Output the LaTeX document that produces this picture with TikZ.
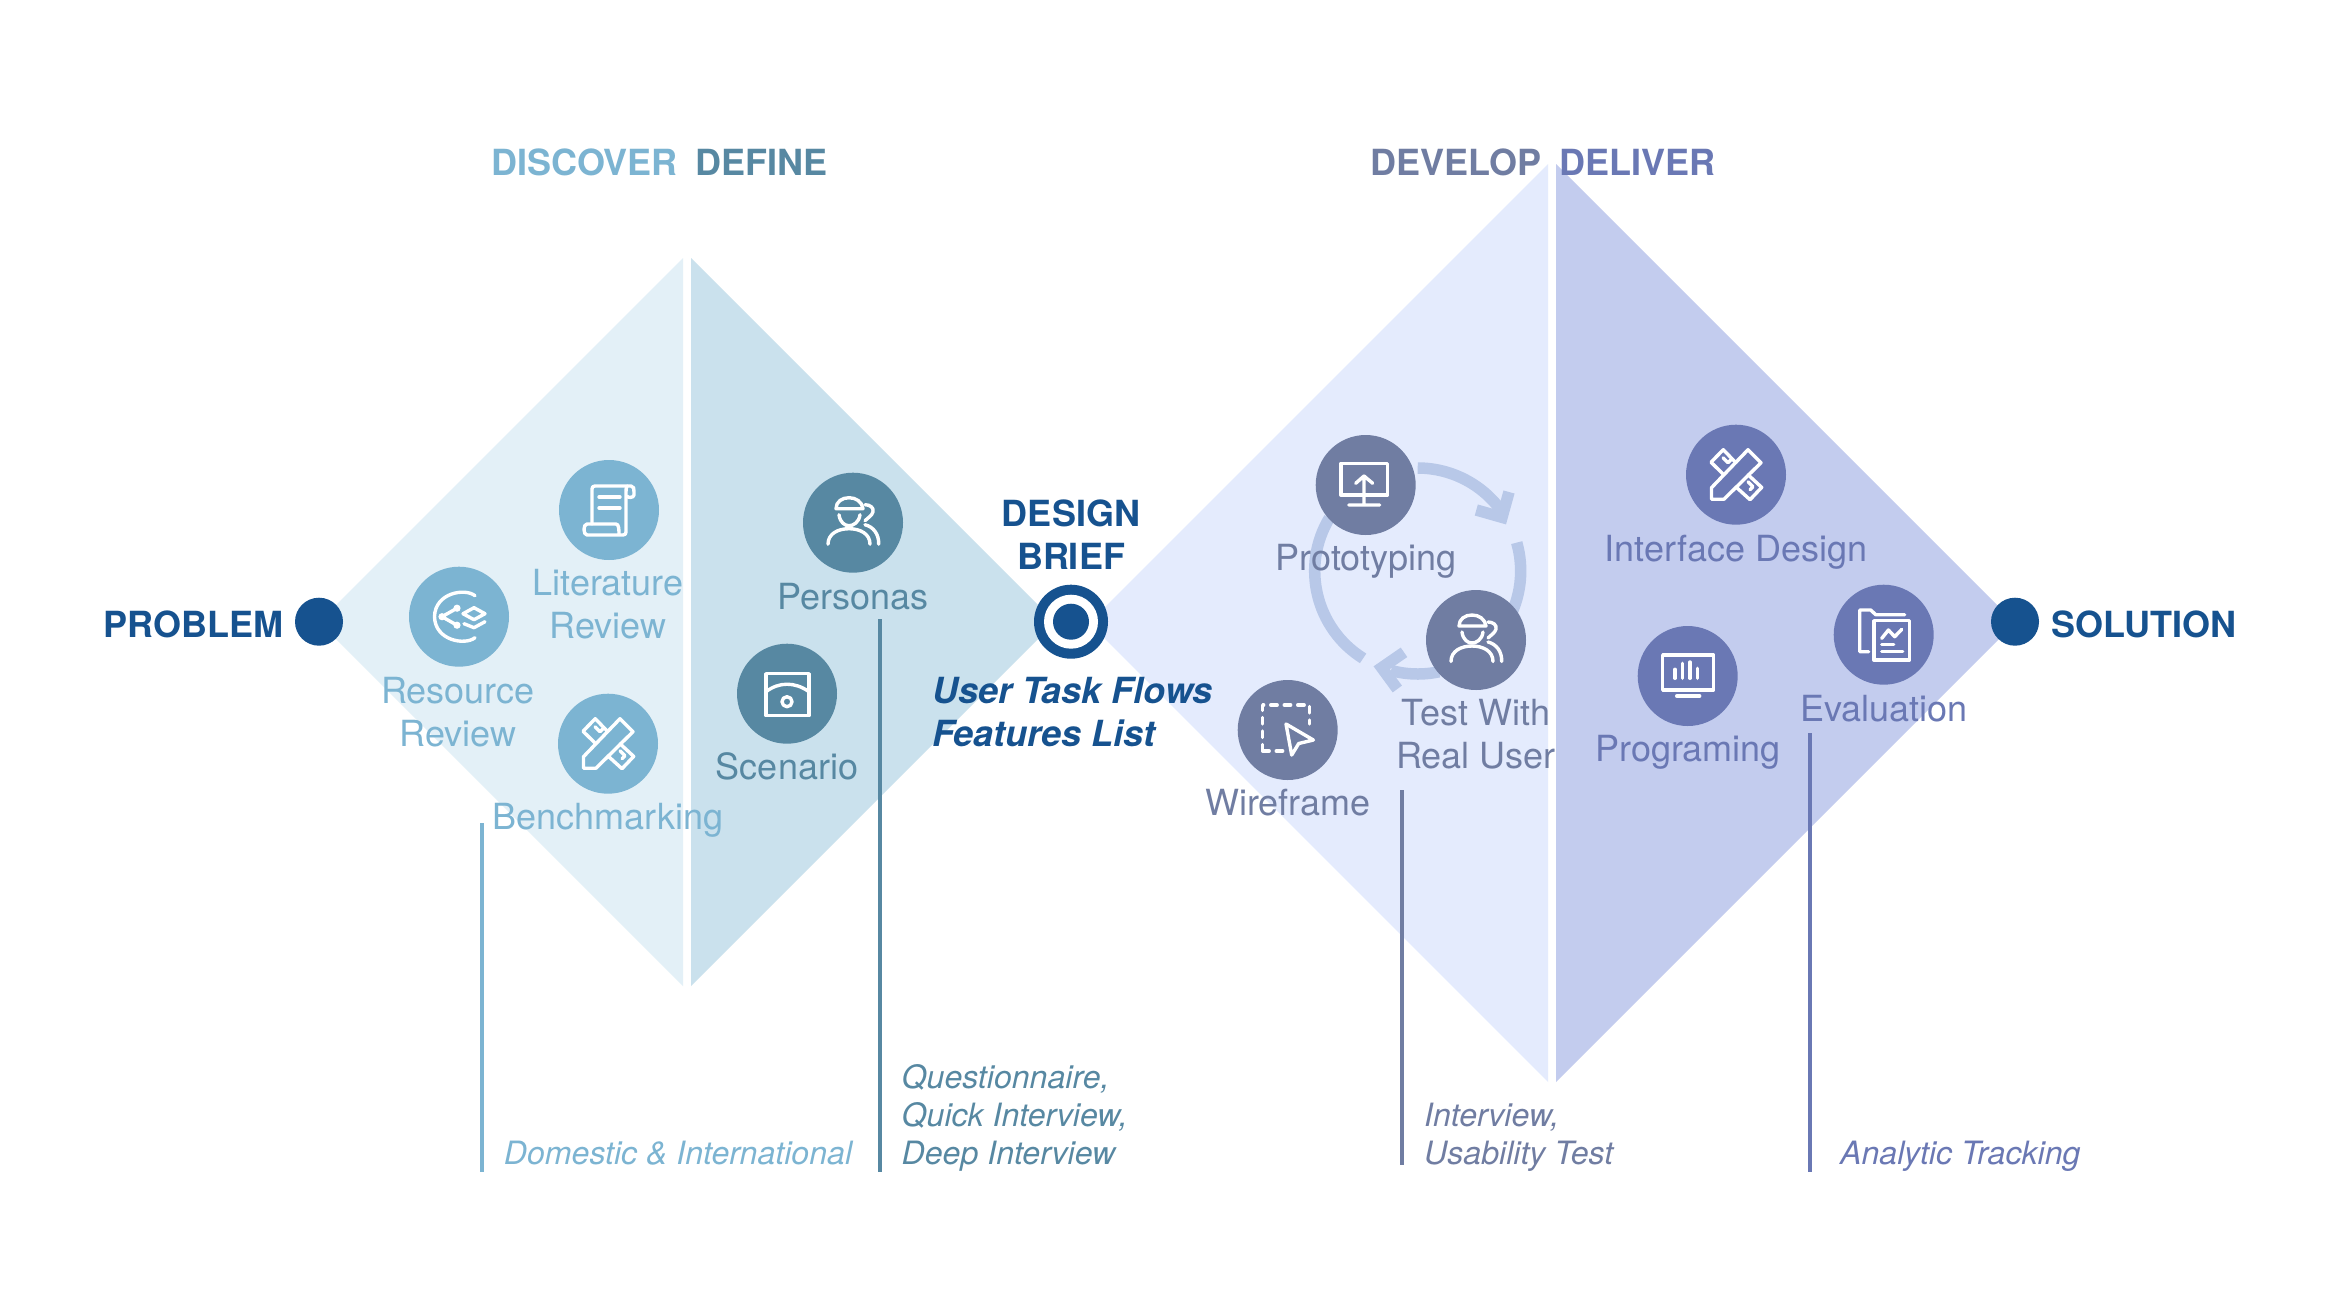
\documentclass[tikz,border=0pt]{standalone}
\usepackage{fontspec}
\setmainfont{TeX Gyre Heros}
\definecolor{cA}{HTML}{7CB4D2}
\definecolor{cB}{HTML}{5788A2}
\definecolor{cC}{HTML}{707DA2}
\definecolor{cD}{HTML}{6A78B4}
\definecolor{fA}{HTML}{E3F0F7}
\definecolor{fB}{HTML}{CAE1ED}
\definecolor{fC}{HTML}{E4EBFD}
\definecolor{fD}{HTML}{C3CCEE}
\definecolor{navy}{HTML}{16528F}
\definecolor{cyc}{HTML}{B8C8E8}
\tikzset{
  disc/.style={circle,fill=#1,draw=none,minimum size=100pt,inner sep=0pt},
  lab/.style={text=#1,anchor=base,inner sep=0pt,align=center,font=\fontsize{36}{43}\selectfont},
  head/.style={text=#1,anchor=base west,inner sep=0pt,font=\fontsize{36}{43}\selectfont\bfseries},
  brief/.style={text=navy,inner sep=0pt,align=left,anchor=base west,font=\fontsize{36}{43}\selectfont\bfseries\itshape},
  note/.style={text=#1,anchor=base west,inner sep=0pt,align=left,font=\fontsize{32.1}{38}\selectfont\itshape},
  rule/.style={draw=#1,line width=4pt},
  ico/.style={draw=white,line width=3.4pt,line cap=round,line join=round},
  cycarc/.style={draw=cyc,line width=11.5pt},
  cychead/.style={draw=cyc,line width=11.5pt,line join=miter,miter limit=10}
}
\newcommand{\iconScroll}[1]{\begin{scope}[shift={(#1.center)}]
 \draw[ico] (-17,14) -- (-17,-21) .. controls (-17,-23) and (-16,-24) .. (-14,-24) -- (22,-24) .. controls (25,-24) and (25,-21) .. (25,-18) -- (25,-15) .. controls (25,-12) and (18,-12) .. (18,-14);
 \draw[ico] (18,-24) .. controls (17,-22) and (17,-20) .. (17,-18) -- (17,22) .. controls (17,24) and (16,25) .. (14,25) -- (-22,25) .. controls (-26,25) and (-26,14) .. (-22,14) -- (7,14) .. controls (10,14) and (10,20) .. (10,25);
 \draw[ico] (-10,-13) -- (11,-13) (-10,-2) -- (11,-2);
\end{scope}}
\newcommand{\iconShare}[1]{\begin{scope}[shift={(#1.center)}]
 \draw[ico] (16,-21) .. controls (6,-29) and (-24,-24) .. (-24.500,0) .. controls (-24,24) and (6,29) .. (16,21);
 \draw[ico] (-2,-8.500) -- (-17,0) -- (-2,8.500);
 \fill[white] (-2,-8.500) circle (3.600pt) (-17,0) circle (3.600pt) (-2,8.500) circle (3.600pt);
 \draw[ico] (15,-9) -- (26,-3) -- (15,3) -- (4,-3) -- cycle;
 \draw[ico] (5,7) -- (15,11) -- (26,5);
\end{scope}}
\newcommand{\iconTools}[1]{\begin{scope}[shift={(#1.center)}]
 \draw[ico] (-24.500,13) -- (12,-25) -- (25,-12) -- (-12,24.500) -- (-24.500,24.500) -- cycle;
 \draw[ico] (-0.200,-12) -- (-12.700,-25) -- (-25,-12.500) -- (-12.300,0);
 \draw[ico] (12,0) -- (25.700,12.700) -- (14,25) -- (0,12.300);
 \draw[ico] (-13,-17) -- (-8,-12) -- (-5,-15) (12,7) -- (17,12) -- (14,15);
\end{scope}}
\newcommand{\iconUser}[1]{\begin{scope}[shift={(#1.center)}]
 \draw[ico] (-17,-14) .. controls (-17,-21) and (-11,-25) .. (-4,-25) .. controls (3,-25) and (9,-21) .. (10,-14) -- cycle;
 \draw[ico] (-14,-8) .. controls (-13,0) and (-8,3) .. (-4,3) .. controls (0,3) and (6,0) .. (7,-8);
 \draw[ico] (-25,21.500) .. controls (-25,11) and (-15,6) .. (-4,6) .. controls (7,6) and (17,11) .. (17,21.500);
 \draw[ico] (12,-18) .. controls (17,-18) and (21,-15) .. (20,-11) .. controls (19,-7) and (15,-5) .. (12,-2);
 \draw[ico] (12,2) .. controls (20,4) and (26,11) .. (25.700,21.500);
\end{scope}}
\newcommand{\iconScene}[1]{\begin{scope}[shift={(#1.center)}]
 \draw[ico] (-21,-20) rectangle (22,22);
 \draw[ico] (-21,-2) .. controls (-8,-12) and (8,-12) .. (22,-2);
 \draw[ico] (0,8) circle (5pt);
\end{scope}}
\newcommand{\iconMonitor}[1]{\begin{scope}[shift={(#1.center)}]
 \draw[ico] (-24.700,-21.700) rectangle (21.700,10);
 \draw[ico] (-10,-1.700) -- (-1.700,-9) -- (7,-1.700) (-1.700,-9) -- (-1.700,20) (-17,20) -- (14,20);
\end{scope}}
\newcommand{\iconCursor}[1]{\begin{scope}[shift={(#1.center)}]
 \draw[ico,dash pattern=on 6.500pt off 7pt] (-25,21) -- (-25,-25) -- (22,-25) -- (22,-6);
 \draw[ico,dash pattern=on 6.500pt off 7pt] (-25,21) -- (-3,21);
 \draw[ico] (-1.700,-6) -- (25.700,10) -- (11,13.500) -- (4,25) -- cycle;
\end{scope}}
\newcommand{\iconBars}[1]{\begin{scope}[shift={(#1.center)}]
 \draw[ico] (-25,-21) rectangle (25.700,14);
 \draw[ico] (-12.700,-6.700) -- (-12.700,2.300) (-5,-12.700) -- (-5,2.300) (2.300,-14) -- (2.300,2.300) (9.700,-7.700) -- (9.700,2.300);
 \draw[ico] (-11,20) -- (12,20);
\end{scope}}
\newcommand{\iconFolder}[1]{\begin{scope}[shift={(#1.center)}]
 \draw[ico] (21,-20) -- (-8,-20) -- (-13,-24.700) -- (-24,-24.700) -- (-24,17) -- (-15,17);
 \draw[ico] (-9.700,-14) rectangle (25.700,25.300);
 \draw[ico] (-2,3.700) -- (4.700,-4.700) -- (11,2) -- (18,-5.300);
 \draw[ico] (-2,9.700) -- (10,9.700) (-2,17) -- (19,17);
\end{scope}}
\begin{document}
\begin{tikzpicture}[x=1pt,y=-1pt]
\useasboundingbox (0,0) rectangle (2340,1310);
\fill[white] (0,0) rectangle (2340,1310);
% diamonds
\fill[fA] (683,258) -- (319,622) -- (683,986) -- cycle;
\fill[fB] (691,258) -- (1055,622) -- (691,986) -- cycle;
\fill[fC] (1548,164) -- (1089,623) -- (1548,1082) -- cycle;
\fill[fD] (1556,164) -- (2015,623) -- (1556,1082) -- cycle;
% cycle arrows
\coordinate (cyc) at (1417.7,571);
\draw[cycarc] (cyc) ++(-90:103) arc[start angle=-90,end angle=-33,radius=103];
\draw[cycarc] (cyc) ++(-16:103) arc[start angle=-16,end angle=30,radius=103];
\draw[cycarc] (cyc) ++(78:103) arc[start angle=78,end angle=105,radius=103];
\draw[cycarc] (cyc) ++(122:103) arc[start angle=122,end angle=211,radius=103];
\coordinate (hA1) at (1509,492); \coordinate (hA2) at (1502,517.3); \coordinate (hA3) at (1476.3,510);
\coordinate (hB1) at (1404,652.3); \coordinate (hB2) at (1381.7,667.7); \coordinate (hB3) at (1397.3,689);
\draw[cychead] (hA1) -- (hA2) -- (hA3);
\draw[cychead] (hB1) -- (hB2) -- (hB3);
% rules
\coordinate (rA1) at (481.7,823); \coordinate (rA2) at (481.7,1171.7);
\coordinate (rB1) at (880,619); \coordinate (rB2) at (880,1171.7);
\coordinate (rC1) at (1401.6,790); \coordinate (rC2) at (1401.6,1165);
\coordinate (rD1) at (1810,733); \coordinate (rD2) at (1810,1171.7);
\draw[rule=cA] (rA1) -- (rA2);
\draw[rule=cB] (rB1) -- (rB2);
\draw[rule=cC] (rC1) -- (rC2);
\draw[rule=cD] (rD1) -- (rD2);
% discs
\node[disc=cA] (lit) at (609,510) {};
\node[disc=cA] (res) at (459,616.7) {};
\node[disc=cA] (ben) at (608,743.7) {};
\node[disc=cB] (per) at (853,522.7) {};
\node[disc=cB] (sce) at (787,693.7) {};
\node[disc=cC] (pro) at (1365.7,485) {};
\node[disc=cC] (tes) at (1476,640) {};
\node[disc=cC] (wir) at (1287.7,730) {};
\node[disc=cD] (int) at (1736,474.7) {};
\node[disc=cD] (eva) at (1883.7,634.7) {};
\node[disc=cD] (prg) at (1687.7,676) {};
\iconScroll{lit}\iconShare{res}\iconTools{ben}\iconUser{per}\iconScene{sce}
\iconMonitor{pro}\iconUser{tes}\iconCursor{wir}\iconTools{int}\iconFolder{eva}\iconBars{prg}
% markers
\node[circle,fill=navy,minimum size=48pt,inner sep=0pt] (problem) at (319,621.7) {};
\node[circle,fill=navy,minimum size=48pt,inner sep=0pt] (solution) at (2015,621.7) {};
\node[circle,fill=navy,minimum size=74pt,inner sep=0pt] (briefO) at (1071,621.7) {};
\node[circle,fill=white,minimum size=54pt,inner sep=0pt] (briefW) at (briefO.center) {};
\node[circle,fill=navy,minimum size=36pt,inner sep=0pt] (briefI) at (briefO.center) {};
% headings
\node[head=cA] (discover) at (491,175.5) {DISCOVER};
\node[head=cB] (define) at (695.5,175.5) {DEFINE};
\node[head=cC] (develop) at (1370,175.5) {DEVELOP};
\node[head=cD] (deliver) at (1559.5,175.5) {DELIVER};
\node[head=navy] (tproblem) at (103,637) {PROBLEM};
\node[head=navy] (tsolution) at (2051,637) {SOLUTION};
\node[head=navy,align=center,anchor=base] (tbrief) at (1071,569.5) {DESIGN\\BRIEF};
\node[brief] (flows) at (932,746) {User Task Flows\\Features List};
% labels
\node[lab=cA] (llit) at (608,638.5) {Literature\\Review};
\node[lab=cA] (lres) at (458,746) {Resource\\Review};
\node[lab=cA] (lben) at (608,829.5) {Benchmarking};
\node[lab=cB] (lper) at (853,609) {Personas};
\node[lab=cB] (lsce) at (787,779.5) {Scenario};
\node[lab=cC] (lpro) at (1366,570.5) {Prototyping};
\node[lab=cC] (ltes) at (1476,768.5) {Test With\\Real User};
\node[lab=cC] (lwir) at (1288,815.5) {Wireframe};
\node[lab=cD] (lint) at (1736,561.5) {Interface Design};
\node[lab=cD] (leva) at (1884,721.5) {Evaluation};
\node[lab=cD] (lprg) at (1688,761.5) {Programing};
% notes
\node[note=cA] (nA) at (503.7,1164) {Domestic \& International};
\node[note=cB] (nB) at (901.5,1164) {Questionnaire,\\Quick Interview,\\Deep Interview};
\node[note=cC] (nC) at (1424,1164) {Interview,\\Usability Test};
\node[note=cD] (nD) at (1840,1164) {Analytic Tracking};
\end{tikzpicture}
\end{document}
